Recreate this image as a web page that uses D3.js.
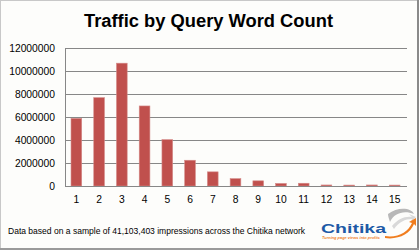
<!DOCTYPE html>
<html><head><meta charset="utf-8">
<script src="https://cdn.jsdelivr.net/npm/d3@7"></script>
<style>html,body{margin:0;padding:0;background:#fff;}svg{display:block;}</style>
</head><body>
<svg id="c" width="420" height="252"></svg>
<script>
const categories = ["1","2","3","4","5","6","7","8","9","10","11","12","13","14","15"];
const values = [5880000, 7680000, 10680000, 6960000, 4030000, 2240000, 1230000, 640000, 450000, 220000, 240000, 90000, 80000, 90000, 80000];
const yTicks = [0, 2000000, 4000000, 6000000, 8000000, 10000000, 12000000];
const title = "Traffic by Query Word Count";
const footnote = "Data based on a sample of 41,103,403 impressions across the Chitika network";

const svg = d3.select("#c");
// frame
svg.append("rect").attr("x",0.5).attr("y",0.5).attr("width",417).attr("height",248)
  .attr("fill","#fdfdfb").attr("stroke","#c8c8c8");
svg.append("line").attr("x1",418).attr("x2",418).attr("y1",0).attr("y2",250).attr("stroke","#8a8a8a").attr("stroke-width",2);
svg.append("line").attr("x1",0).attr("x2",419).attr("y1",249).attr("y2",249).attr("stroke","#9a9a9a").attr("stroke-width",2);

const m = {l:65, r:406, t:48, b:186};
const x = d3.scaleBand().domain(categories).range([m.l, m.r]).paddingInner(0.53).paddingOuter(0.265);
const y = d3.scaleLinear().domain([0, 12000000]).range([m.b, m.t]);

// gridlines
svg.append("g").selectAll("line").data(yTicks.filter(d=>d>0)).join("line")
  .attr("x1", m.l).attr("x2", m.r+1)
  .attr("y1", d=>Math.round(y(d))+0.5).attr("y2", d=>Math.round(y(d))+0.5)
  .attr("stroke","#878787").attr("stroke-width",1);

// bars
svg.append("g").selectAll("rect").data(values).join("rect")
  .attr("x",(d,i)=>x(categories[i]))
  .attr("width", x.bandwidth())
  .attr("y", d=>y(d))
  .attr("height", d=>m.b - y(d))
  .attr("fill","#c0504d")
  .attr("stroke","#d48a88").attr("stroke-width",0.6);

// y axis
const ya = svg.append("g").attr("transform",`translate(${m.l},0)`)
  .call(d3.axisLeft(y).tickValues(yTicks).tickSize(0).tickPadding(10).tickFormat(d3.format("d")));
ya.select(".domain").attr("stroke","#878787");
ya.selectAll("text").attr("font-family","Liberation Sans, Arial, sans-serif").attr("font-size","10.3px").attr("fill","#000");

// x axis
const xa = svg.append("g").attr("transform",`translate(0,${m.b})`)
  .call(d3.axisBottom(x).tickSize(0).tickPadding(10));
xa.select(".domain").attr("stroke","#878787").attr("d",`M${m.l},0.5H${m.r+1}`);
xa.selectAll("text").attr("font-family","Liberation Sans, Arial, sans-serif").attr("font-size","10.3px").attr("fill","#000");

// title
svg.append("text").attr("x",208.5).attr("y",27).attr("text-anchor","middle")
  .attr("font-family","Liberation Sans, Arial, sans-serif").attr("font-weight","bold")
  .attr("font-size","18px").attr("textLength",249).attr("lengthAdjust","spacingAndGlyphs")
  .attr("fill","#000").text(title);

// footnote
svg.append("text").attr("x",8).attr("y",233.5)
  .attr("font-family","Liberation Sans, Arial, sans-serif").attr("font-size","9px")
  .attr("textLength",297).attr("lengthAdjust","spacingAndGlyphs")
  .attr("fill","#000").text(footnote);

// logo
const lg = svg.append("g");
lg.append("path").attr("d","M388,214 C398,206 412,208 414,214 C404,210 394,213 390,222 C389,219 388,216 388,214 Z")
  .attr("fill","#b8b8b8");
lg.append("path").attr("d","M392,226 C398,219 405,216 412,217 L409,214 L416,217 L411,222 L412,219 C405,219 399,222 394,229 Z")
  .attr("fill","#d9d9d9");
lg.append("path").attr("d","M385,236 C398,238 408,232 412,223 L409,222 L416,218 L416,226 L414,224 C410,234 398,240 385,238 Z")
  .attr("fill","#f07d1e");
lg.append("text").attr("x",321).attr("y",233).attr("font-family","Liberation Sans, Arial, sans-serif")
  .attr("font-weight","bold").attr("font-size","12.5px").attr("textLength",65).attr("lengthAdjust","spacingAndGlyphs")
  .attr("fill","#1d5aa6").text("Chitika");
lg.append("text").attr("x",322).attr("y",239).attr("font-family","Liberation Sans, Arial, sans-serif")
  .attr("font-style","italic").attr("font-weight","bold").attr("font-size","3.6px").attr("textLength",58).attr("lengthAdjust","spacingAndGlyphs")
  .attr("fill","#f07d1e").text("Turning page views into profits");
</script>
</body></html>
